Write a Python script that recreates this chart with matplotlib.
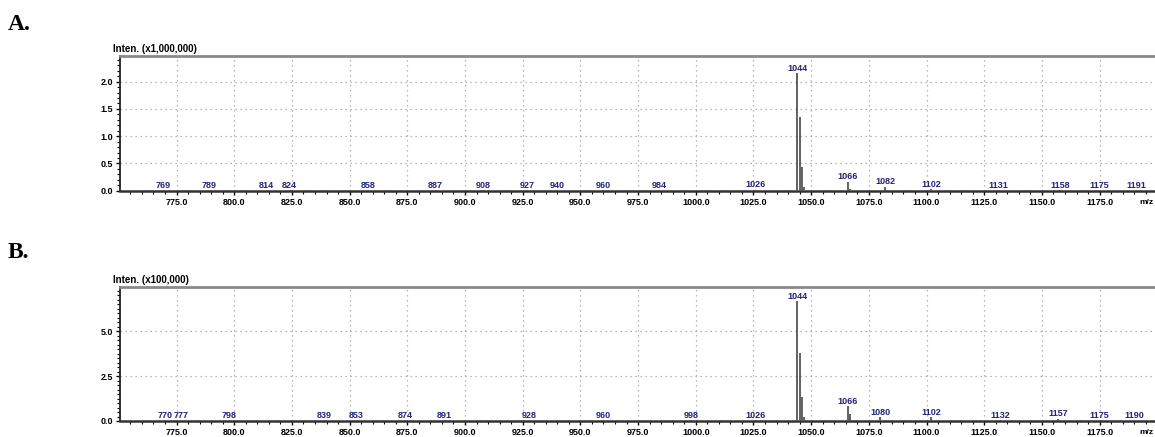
import matplotlib
matplotlib.use("Agg")
import matplotlib.pyplot as plt
from matplotlib.ticker import MultipleLocator, FormatStrFormatter

# ---------------- data ----------------
x_ticks = [775, 800, 825, 850, 875, 900, 925, 950, 975, 1000, 1025, 1050, 1075, 1100, 1125, 1150, 1175]

# Panel A (intensity in units of 1,000,000)
A_mz = [769, 789, 814, 824, 858, 887, 908, 927, 940, 960, 984, 1026,
        1044, 1045, 1046, 1047, 1066, 1067, 1082, 1102, 1131, 1158, 1175, 1191]
A_int = [0.012, 0.012, 0.012, 0.012, 0.012, 0.012, 0.012, 0.012, 0.012, 0.012, 0.012, 0.015,
         2.15, 1.35, 0.44, 0.06, 0.165, 0.04, 0.07, 0.03, 0.01, 0.01, 0.01, 0.01]
A_lab = ["769", "789", "814", "824", "858", "887", "908", "927", "940", "960", "984", "1026",
         "1044", "", "", "", "1066", "", "1082", "1102", "1131", "1158", "1175", "1191"]
A_yticks = [0.0, 0.5, 1.0, 1.5, 2.0]

# Panel B (intensity in units of 100,000)
B_mz = [770, 777, 798, 839, 853, 874, 891, 928, 960, 998, 1026,
        1044, 1045, 1046, 1047, 1066, 1067, 1080, 1102, 1132, 1157, 1175, 1190]
B_int = [0.05, 0.05, 0.05, 0.05, 0.05, 0.05, 0.05, 0.05, 0.05, 0.05, 0.05,
         6.67, 3.78, 1.32, 0.2, 0.83, 0.4, 0.22, 0.2, 0.05, 0.12, 0.05, 0.05]
B_lab = ["770", "777", "798", "839", "853", "874", "891", "928", "960", "998", "1026",
         "1044", "", "", "", "1066", "", "1080", "1102", "1132", "1157", "1175", "1190"]
B_yticks = [0.0, 2.5, 5.0]

W, H = 1155, 437
fig = plt.figure(figsize=(W / 100, H / 100), dpi=100)

FONT = "Liberation Sans"
LABEL_COLOR = "#23237a"


def panel(rect, mz, inten, labels, yticks, ymax, yminor, title, letter, letter_y):
    ax = fig.add_axes(rect)
    ax.set_xlim(750.5, 1199)
    ax.set_ylim(0, ymax)
    ax.vlines(mz, 0, inten, color="#555555", lw=1.3, zorder=3)
    for m, v, lab in zip(mz, inten, labels):
        if lab:
            ax.text(m, v + ymax * 0.003, lab, ha="center", va="bottom",
                    fontsize=6.5, fontweight="bold", color=LABEL_COLOR, family=FONT, zorder=4)
    ax.set_xticks(x_ticks)
    ax.xaxis.set_major_formatter(FormatStrFormatter("%.1f"))
    ax.xaxis.set_minor_locator(MultipleLocator(5))
    ax.set_yticks(yticks)
    ax.yaxis.set_major_formatter(FormatStrFormatter("%.1f"))
    ax.yaxis.set_minor_locator(MultipleLocator(yminor))
    ax.tick_params(axis="both", which="major", direction="out", length=3, width=1,
                   labelsize=6.5, pad=2)
    ax.tick_params(axis="both", which="minor", direction="out", length=2, width=0.8)
    for lbl in ax.get_xticklabels() + ax.get_yticklabels():
        lbl.set_fontweight("bold")
        lbl.set_family(FONT)
    ax.grid(True, which="major", linestyle=(0, (1, 3)), color="#a0a0a0", lw=0.9)
    ax.spines["top"].set_color("#8a8a8a")
    ax.spines["top"].set_linewidth(2)
    ax.spines["left"].set_color("#222222")
    ax.spines["left"].set_linewidth(1.3)
    ax.spines["bottom"].set_color("#333333")
    ax.spines["bottom"].set_linewidth(1.8)
    ax.spines["right"].set_visible(False)
    # title above the axes
    top_px = (1 - (rect[1] + rect[3])) * H
    fig.text(113 / W, 1 - (top_px - 2) / H, title, fontsize=7, fontweight="bold",
             family=FONT, ha="left", va="bottom")
    # m/z label at right end of x axis
    bot_px = (1 - rect[1]) * H
    fig.text(1154 / W, 1 - (bot_px + 12) / H, "m/z", fontsize=6, fontweight="bold",
             family=FONT, ha="right", va="center")
    fig.text(8 / W, 1 - letter_y / H, letter, fontsize=17, fontweight="bold",
             family="Liberation Serif", ha="left", va="center")
    return ax


panel([120 / W, 1 - 190.7 / H, 1 - 120 / W, (190.7 - 56) / H],
      A_mz, A_int, A_lab, A_yticks, 2.47, 0.1, "Inten. (x1,000,000)", "A.", 25)
panel([120 / W, 1 - 421 / H, 1 - 120 / W, (421 - 286.7) / H],
      B_mz, B_int, B_lab, B_yticks, 7.48, 0.25, "Inten. (x100,000)", "B.", 253)

fig.savefig("out.png", dpi=100)
